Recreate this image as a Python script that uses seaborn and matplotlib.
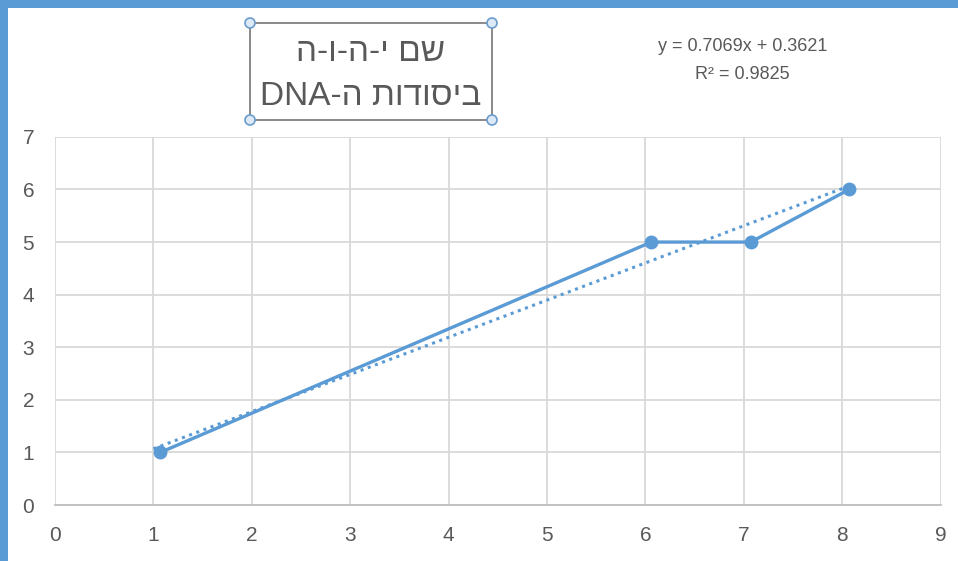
import re
import numpy as np
import pandas as pd
import seaborn as sns
import matplotlib.pyplot as plt
from matplotlib.patches import Rectangle, Circle

# data
x_vals = [1.07, 6.06, 7.07, 8.07]
y_vals = [1, 5, 5, 6]
slope = 0.7069
intercept = 0.3621
r2 = 0.9825
trend_x = [1, 8]
x_ticks = list(range(0, 10))
y_ticks = list(range(0, 8))
title_lines = ["שם י-ה-ו-ה", "ביסודות ה-DNA"]

blue = "#5B9BD5"
grey_txt = "#595959"
grid_col = "#D9D9D9"


def rtl(s):
    # matplotlib has no bidi, so flip the hebrew and keep latin runs in order
    return re.sub(r"[A-Za-z0-9.]+", lambda m: m.group(0)[::-1], s[::-1])


sns.set_theme(style="white")
plt.rcParams["font.family"] = ["Liberation Sans", "DejaVu Sans"]

df = pd.DataFrame({"x": x_vals, "y": y_vals})
trend = pd.DataFrame({"x": trend_x, "y": [slope * v + intercept for v in trend_x]})

fig = plt.figure(figsize=(9.58, 5.61), dpi=100)
ax = fig.add_axes([0.0574, 0.0998, 0.9245, 0.6562])

sns.lineplot(data=trend, x="x", y="y", ax=ax, color=blue, linestyle=(0, (1, 1.5)),
             linewidth=2.2, sort=False)
sns.lineplot(data=df, x="x", y="y", ax=ax, color=blue, linewidth=2.4, marker="o",
             markersize=10, markeredgewidth=0, sort=False)

ax.set_xlim(0, 9)
ax.set_ylim(0, 7)
ax.set_xticks(x_ticks)
ax.set_yticks(y_ticks)
ax.grid(True, color=grid_col, linewidth=1.3)
ax.set_axisbelow(True)
for side in ["left", "right", "top"]:
    ax.spines[side].set_visible(False)
ax.spines["bottom"].set_color("#BFBFBF")
ax.spines["bottom"].set_linewidth(1.3)
ax.tick_params(length=0, labelsize=15, labelcolor=grey_txt)
ax.tick_params(axis="y", pad=15)
ax.tick_params(axis="x", pad=15)
ax.set_xlabel("")
ax.set_ylabel("")

# trendline label
ax.text(0.776, 1.207, f"y = {slope}x + {intercept}\nR² = {r2}", transform=ax.transAxes,
        ha="center", va="center", fontsize=13, color=grey_txt, linespacing=1.85)

# overlay in pixel coords for the frame, title box and handles
ov = fig.add_axes([0, 0, 1, 1], zorder=5)
ov.set_xlim(0, 958)
ov.set_ylim(561, 0)
ov.axis("off")
ov.patch.set_alpha(0)

ov.add_patch(Rectangle((0, 0), 958, 8, color=blue, lw=0))
ov.add_patch(Rectangle((0, 0), 8, 561, color=blue, lw=0))

ov.add_patch(Rectangle((250, 23), 242, 97, fill=False, edgecolor="#808080", lw=1.3))
for cx, cy in [(250, 23), (492, 23), (250, 120), (492, 120)]:
    ov.add_patch(Circle((cx, cy), 5, facecolor="#DCEAF7", edgecolor="#6C9CCB", lw=1.2))

ov.text(371, 52, rtl(title_lines[0]), ha="center", va="center", fontsize=24, color=grey_txt)
ov.text(371, 96, rtl(title_lines[1]), ha="center", va="center", fontsize=24, color=grey_txt)

fig.savefig("out.png", dpi=100)
